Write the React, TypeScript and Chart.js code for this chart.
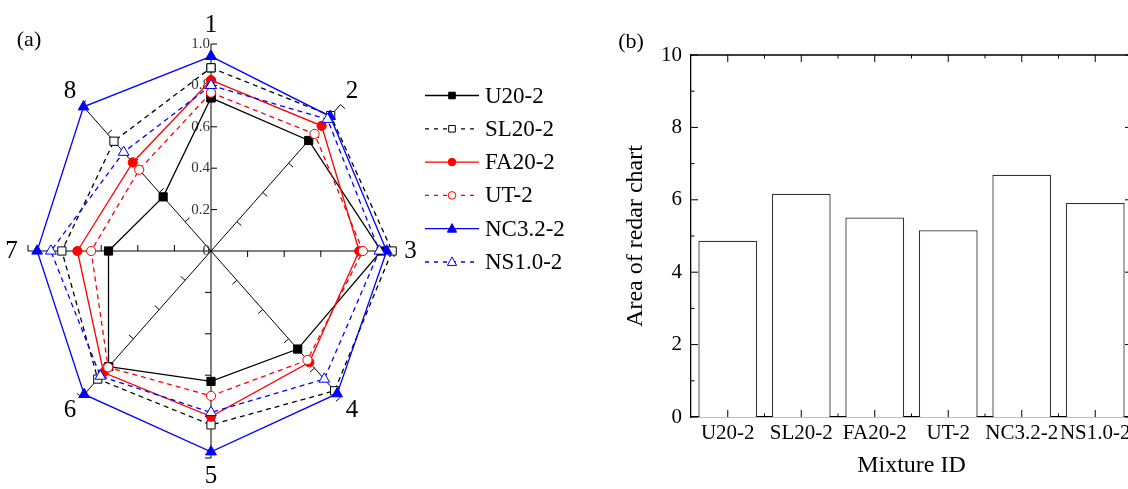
import React, { useEffect, useRef } from 'react';
import { Chart, registerables } from 'chart.js';

Chart.register(...registerables);

// ---------- Panel (a): radar chart data ----------
const axisLabels = ['1', '2', '3', '4', '5', '6', '7', '8'];
const radialTicks = [0, 0.2, 0.4, 0.6, 0.8, 1.0];
const seriesNames = ['U20-2', 'SL20-2', 'FA20-2', 'UT-2', 'NC3.2-2', 'NS1.0-2'];
const valuesU20 = [0.74, 0.755, 0.93, 0.67, 0.63, 0.79, 0.56, 0.37];
const valuesSL20 = [0.885, 0.925, 0.99, 0.955, 0.84, 0.875, 0.815, 0.75];
const valuesFA20 = [0.825, 0.855, 0.81, 0.76, 0.8, 0.83, 0.73, 0.605];
const valuesUT = [0.765, 0.8, 0.83, 0.745, 0.7, 0.795, 0.655, 0.555];
const valuesNC32 = [0.94, 0.92, 0.96, 0.975, 0.97, 0.98, 0.95, 0.985];
const valuesNS10 = [0.8, 0.9, 0.92, 0.875, 0.78, 0.855, 0.875, 0.675];
const seriesValues = [valuesU20, valuesSL20, valuesFA20, valuesUT, valuesNC32, valuesNS10];

// ---------- Panel (b): bar chart data ----------
const mixtureIds = ['U20-2', 'SL20-2', 'FA20-2', 'UT-2', 'NC3.2-2', 'NS1.0-2'];
const radarAreas = [4.87, 6.17, 5.51, 5.16, 6.69, 5.91];
const areaTickStep = 2;

// ---------- styles (kept apart from data) ----------
const FONT = '"Liberation Serif", "Times New Roman", serif';
const seriesStyles = [
  { color: '#000000', dash: [] as number[], marker: 'rect', filled: true },
  { color: '#000000', dash: [5, 4], marker: 'rect', filled: false },
  { color: '#ff0000', dash: [] as number[], marker: 'circle', filled: true },
  { color: '#ff0000', dash: [5, 4], marker: 'circle', filled: false },
  { color: '#0000ff', dash: [] as number[], marker: 'triangle', filled: true },
  { color: '#0000ff', dash: [5, 4], marker: 'triangle', filled: false },
];
const markerRadius: Record<string, number> = { rect: 5.8, circle: 4.6, triangle: 6.2 };

const polar = (v: number, i: number) => {
  const a = (i * 2 * Math.PI) / axisLabels.length;
  return { x: v * Math.sin(a), y: v * Math.cos(a) };
};

function drawMarker(ctx: CanvasRenderingContext2D, kind: string, x: number, y: number, r: number, color: string, filled: boolean) {
  ctx.save();
  ctx.setLineDash([]);
  ctx.beginPath();
  if (kind === 'rect') {
    ctx.rect(x - r, y - r, 2 * r, 2 * r);
  } else if (kind === 'circle') {
    ctx.arc(x, y, r, 0, Math.PI * 2);
  } else {
    ctx.moveTo(x, y - r * 1.1);
    ctx.lineTo(x + r, y + r * 0.75);
    ctx.lineTo(x - r, y + r * 0.75);
    ctx.closePath();
  }
  ctx.fillStyle = filled ? color : '#ffffff';
  ctx.fill();
  ctx.strokeStyle = color;
  ctx.lineWidth = 1;
  ctx.stroke();
  ctx.restore();
}

const radarFrame = {
  id: 'radarFrame',
  beforeDatasetsDraw(chart: any) {
    const { ctx } = chart;
    const xs = chart.scales.x;
    const ys = chart.scales.y;
    const cx = xs.getPixelForValue(0);
    const cy = ys.getPixelForValue(0);
    ctx.save();
    ctx.strokeStyle = '#000';
    ctx.lineWidth = 1;
    axisLabels.forEach((_, i) => {
      const u = polar(1, i);
      const ex = xs.getPixelForValue(u.x);
      const ey = ys.getPixelForValue(u.y);
      ctx.beginPath();
      ctx.moveTo(cx, cy);
      ctx.lineTo(ex, ey);
      ctx.stroke();
      const len = Math.hypot(ex - cx, ey - cy);
      const dx = (ex - cx) / len;
      const dy = (ey - cy) / len;
      const tx = -dy;
      const ty = dx;
      radialTicks.slice(1).forEach((t) => {
        const p = polar(t, i);
        const px = xs.getPixelForValue(p.x);
        const py = ys.getPixelForValue(p.y);
        ctx.beginPath();
        ctx.moveTo(px, py);
        ctx.lineTo(px + tx * 6, py + ty * 6);
        ctx.stroke();
      });
    });
    // tick labels on axis 1
    ctx.fillStyle = '#333';
    ctx.font = `15px ${FONT}`;
    ctx.textAlign = 'right';
    ctx.textBaseline = 'middle';
    radialTicks.forEach((t) => {
      ctx.fillText(t === 0 ? '0' : t.toFixed(1), cx - 1, ys.getPixelForValue(t));
    });
    // axis labels 1..8
    ctx.fillStyle = '#000';
    ctx.font = `25px ${FONT}`;
    ctx.textAlign = 'center';
    axisLabels.forEach((lab, i) => {
      const p = polar(1.09, i);
      ctx.fillText(lab, xs.getPixelForValue(p.x), ys.getPixelForValue(p.y));
    });
    ctx.restore();
  },
  afterDraw(chart: any) {
    const { ctx } = chart;
    ctx.save();
    ctx.fillStyle = '#000';
    ctx.font = `22px ${FONT}`;
    ctx.textAlign = 'center';
    ctx.textBaseline = 'middle';
    ctx.fillText('(a)', 29, 40);
    // legend
    const legendSizes: Record<string, number> = { rect: 3.3, circle: 3.8, triangle: 4.6 };
    seriesNames.forEach((name, i) => {
      const st = seriesStyles[i];
      const y = 95.5 + i * 33.3;
      ctx.save();
      ctx.strokeStyle = st.color;
      ctx.lineWidth = 1.3;
      ctx.setLineDash(st.dash.length ? [4, 5] : []);
      ctx.beginPath();
      ctx.moveTo(425, y);
      ctx.lineTo(479, y);
      ctx.stroke();
      ctx.restore();
      drawMarker(ctx, st.marker, 452, y, legendSizes[st.marker], st.color, st.filled);
      ctx.fillStyle = '#000';
      ctx.font = `23px ${FONT}`;
      ctx.textAlign = 'left';
      ctx.textBaseline = 'middle';
      ctx.fillText(name, 485, y + 1);
    });
    ctx.restore();
  },
};

const barFrame = {
  id: 'barFrame',
  afterDraw(chart: any) {
    const { ctx, chartArea } = chart;
    const xs = chart.scales.x;
    const ys = chart.scales.y;
    const { left, right, top, bottom } = chartArea;
    ctx.save();
    ctx.strokeStyle = '#000';
    ctx.lineWidth = 1.3;
    ctx.beginPath();
    ctx.moveTo(left, top);
    ctx.lineTo(right, top);
    ctx.lineTo(right, bottom);
    ctx.stroke();
    ctx.lineWidth = 1;
    // y ticks (inward)
    const yMax = ys.max;
    for (let v = 0; v <= yMax; v += 1) {
      const py = ys.getPixelForValue(v);
      const l = v % areaTickStep === 0 ? 7 : 3.5;
      ctx.beginPath();
      ctx.moveTo(left, py);
      ctx.lineTo(left + l, py);
      ctx.moveTo(right, py);
      ctx.lineTo(right - l, py);
      ctx.stroke();
    }
    // x ticks (inward), major at centres, minor at boundaries
    mixtureIds.forEach((_, i) => {
      const px = xs.getPixelForValue(i);
      const half = (xs.getPixelForValue(1) - xs.getPixelForValue(0)) / 2;
      ctx.beginPath();
      ctx.moveTo(px, bottom);
      ctx.lineTo(px, bottom - 7);
      ctx.moveTo(px, top);
      ctx.lineTo(px, top + 7);
      ctx.moveTo(px + half, bottom);
      ctx.lineTo(px + half, bottom - 3.5);
      ctx.moveTo(px + half, top);
      ctx.lineTo(px + half, top + 3.5);
      ctx.stroke();
    });
    ctx.fillStyle = '#000';
    ctx.font = `22px ${FONT}`;
    ctx.textAlign = 'center';
    ctx.textBaseline = 'middle';
    ctx.fillText('(b)', 31, 42);
    ctx.restore();
  },
};

export default function App() {
  const radarRef = useRef<HTMLCanvasElement>(null);
  const barRef = useRef<HTMLCanvasElement>(null);

  useEffect(() => {
    const n = seriesNames.length;
    const radar = new Chart(radarRef.current as HTMLCanvasElement, {
      type: 'scatter',
      data: {
        datasets: seriesNames.map((name, i) => {
          const st = seriesStyles[i];
          const pts = seriesValues[i].map((v, k) => polar(v, k));
          return {
            label: name,
            data: [...pts, pts[0]],
            showLine: true,
            borderColor: st.color,
            borderWidth: 1.3,
            borderDash: st.dash,
            pointStyle: st.marker,
            pointRadius: markerRadius[st.marker],
            pointBorderWidth: 1,
            pointBorderColor: st.color,
            pointBackgroundColor: st.filled ? st.color : '#ffffff',
            backgroundColor: st.color,
            clip: false,
            order: n - i,
          } as any;
        }),
      },
      options: {
        animation: false,
        responsive: false,
        devicePixelRatio: 1,
        layout: { padding: { left: 28, right: 206, top: 44, bottom: 31 } },
        plugins: { legend: { display: false }, tooltip: { enabled: false } },
        scales: {
          x: { type: 'linear', min: -1, max: 1, display: false },
          y: { type: 'linear', min: -1, max: 1, display: false },
        },
      },
      plugins: [radarFrame],
    });

    const bar = new Chart(barRef.current as HTMLCanvasElement, {
      type: 'bar',
      data: {
        labels: mixtureIds,
        datasets: [
          {
            label: 'Area of redar chart',
            data: radarAreas,
            backgroundColor: '#ffffff',
            borderColor: '#333333',
            borderWidth: 1.3,
            barPercentage: 0.8,
            categoryPercentage: 1,
          },
        ],
      },
      options: {
        animation: false,
        responsive: false,
        devicePixelRatio: 1,
        layout: { padding: { left: 0, right: 28, top: 55, bottom: 0 } },
        plugins: { legend: { display: false }, tooltip: { enabled: false } },
        scales: {
          x: {
            grid: { display: false, drawTicks: false },
            border: { display: true, color: '#000', width: 1.3 },
            ticks: { color: '#000', font: { family: FONT, size: 21 }, padding: 4, autoSkip: false, maxRotation: 0, minRotation: 0 },
            title: { display: true, text: 'Mixture ID', color: '#000', font: { family: FONT, size: 24 }, padding: { top: 0, bottom: 8.6 } },
            afterFit: (s: any) => {
              s.height = 72;
            },
          } as any,
          y: {
            min: 0,
            max: 10,
            grid: { display: false, drawTicks: false },
            border: { display: true, color: '#000', width: 1.3 },
            ticks: { stepSize: areaTickStep, color: '#000', font: { family: FONT, size: 21 }, padding: 9 },
            title: { display: true, text: 'Area of redar chart', color: '#000', font: { family: FONT, size: 24 }, padding: { top: 21.6, bottom: 0 } },
            afterFit: (s: any) => {
              s.width = 91;
            },
          } as any,
        },
      },
      plugins: [barFrame],
    });

    return () => {
      radar.destroy();
      bar.destroy();
    };
  }, []);

  return (
    <div style={{ position: 'fixed', left: 0, top: 0, width: 1128, height: 489, overflow: 'hidden', background: '#fff' }}>
      <canvas ref={radarRef} width={600} height={489} style={{ position: 'absolute', left: 0, top: 0 }} />
      <canvas ref={barRef} width={560} height={489} style={{ position: 'absolute', left: 600, top: 0 }} />
    </div>
  );
}
